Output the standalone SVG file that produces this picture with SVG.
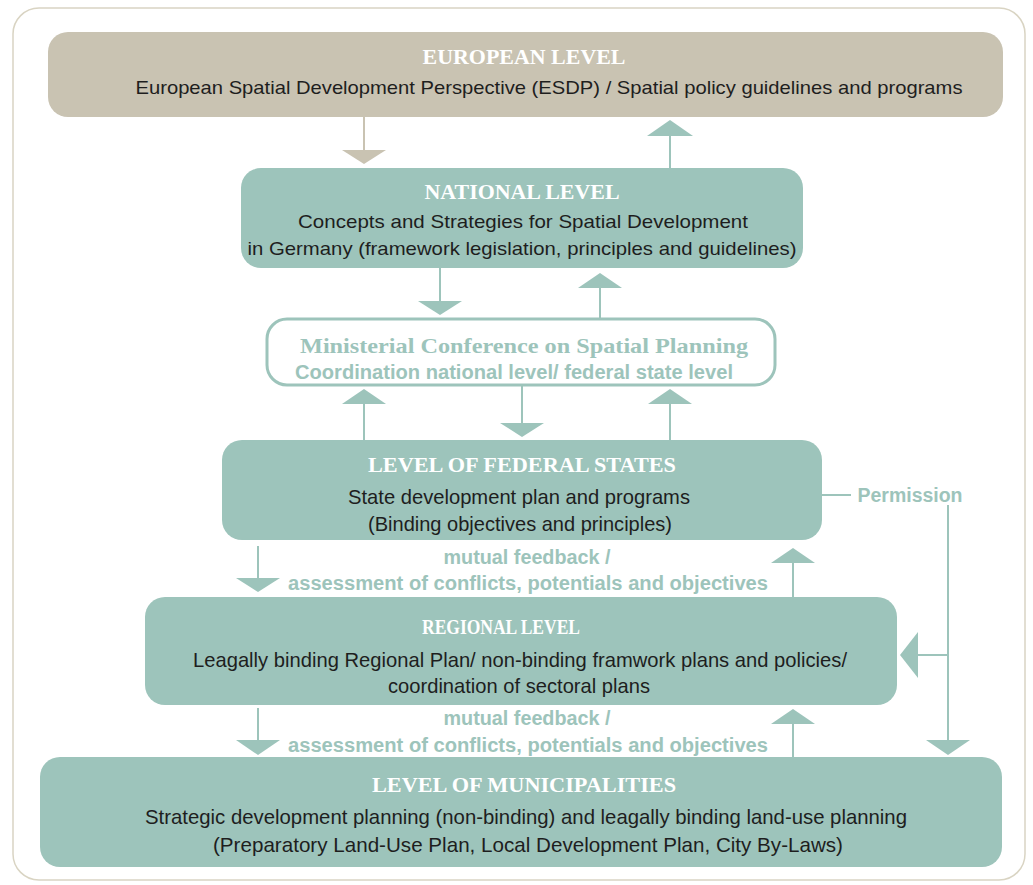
<svg xmlns="http://www.w3.org/2000/svg" width="1033" height="885" viewBox="0 0 1033 885">
<style>
.box{fill:#9dc4bb}
.title{font-family:"Liberation Serif",serif;font-weight:bold;font-size:20px;fill:#ffffff;text-anchor:middle}
.body{font-family:"Liberation Sans",sans-serif;font-size:19px;fill:#1e1e1e;text-anchor:middle}
.cb{font-family:"Liberation Sans",sans-serif;font-size:21px;fill:#1e1e1e;text-anchor:middle}
.tl{font-family:"Liberation Sans",sans-serif;font-weight:bold;font-size:20px;fill:#9dc4bb;text-anchor:middle}
.ln{stroke:#9dc4bb;stroke-width:2;fill:none}
.hd{fill:#9dc4bb}
</style>
<rect x="13" y="8" width="1012" height="872" rx="26" fill="#ffffff" stroke="#d9d4c3" stroke-width="1.5"/>

<g id="connectors">
  <line x1="364" y1="117" x2="364" y2="151" stroke="#c9c3b2" stroke-width="2"/>
  <polygon points="342,150 386,150 364,164" fill="#c9c3b2"/>
  <line class="ln" x1="670" y1="134" x2="670" y2="168"/>
  <polygon class="hd" points="647,136 693,136 670,120"/>
  <line class="ln" x1="440" y1="268" x2="440" y2="302"/>
  <polygon class="hd" points="418,301 462,301 440,315"/>
  <line class="ln" x1="600" y1="286" x2="600" y2="318"/>
  <polygon class="hd" points="578,288 622,288 600,273"/>
  <line class="ln" x1="364" y1="402" x2="364" y2="440"/>
  <polygon class="hd" points="342,404 386,404 364,389"/>
  <line class="ln" x1="522" y1="386" x2="522" y2="424"/>
  <polygon class="hd" points="500,423 544,423 522,437"/>
  <line class="ln" x1="670" y1="402" x2="670" y2="440"/>
  <polygon class="hd" points="648,404 692,404 670,389"/>
  <line class="ln" x1="258" y1="546" x2="258" y2="579"/>
  <polygon class="hd" points="236,578 280,578 258,592"/>
  <line class="ln" x1="793" y1="561" x2="793" y2="597"/>
  <polygon class="hd" points="771,563 815,563 793,548"/>
  <line class="ln" x1="258" y1="708" x2="258" y2="741"/>
  <polygon class="hd" points="236,740 280,740 258,755"/>
  <line class="ln" x1="793" y1="722" x2="793" y2="757"/>
  <polygon class="hd" points="771,724 815,724 793,709"/>
  <line class="ln" x1="822" y1="495" x2="851" y2="495"/>
  <line class="ln" x1="948" y1="505" x2="948" y2="741"/>
  <polygon class="hd" points="926,740 970,740 948,755"/>
  <line class="ln" x1="948" y1="655" x2="916" y2="655"/>
  <polygon class="hd" points="918,632 918,678 900,655"/>
</g>

<g id="european">
  <rect x="48" y="32" width="955" height="85" rx="20" fill="#c9c3b2"/>
  <text class="title" x="524" y="64" textLength="203" lengthAdjust="spacingAndGlyphs">EUROPEAN LEVEL</text>
  <text class="body" x="549" y="94" textLength="827" lengthAdjust="spacingAndGlyphs">European Spatial Development Perspective (ESDP) / Spatial policy guidelines and programs</text>
</g>

<g id="national">
  <rect class="box" x="241" y="168" width="562" height="100" rx="20"/>
  <text class="title" x="522" y="199" textLength="195" lengthAdjust="spacingAndGlyphs">NATIONAL LEVEL</text>
  <text class="body" x="523" y="228" textLength="450" lengthAdjust="spacingAndGlyphs">Concepts and Strategies for Spatial Development</text>
  <text class="body" x="522" y="255" textLength="549" lengthAdjust="spacingAndGlyphs">in Germany (framework legislation, principles and guidelines)</text>
</g>

<g id="ministerial">
  <rect x="267" y="319" width="508" height="66" rx="20" fill="#ffffff" stroke="#9dc4bb" stroke-width="3"/>
  <text x="524" y="353" font-family="Liberation Serif, serif" font-weight="bold" font-size="21" fill="#9dc4bb" text-anchor="middle" textLength="448" lengthAdjust="spacingAndGlyphs">Ministerial Conference on Spatial Planning</text>
  <text class="tl" x="514" y="379" textLength="438" lengthAdjust="spacingAndGlyphs">Coordination national level/ federal state level</text>
</g>

<g id="federal">
  <rect class="box" x="222" y="440" width="600" height="100" rx="20"/>
  <text class="title" x="522" y="472" textLength="308" lengthAdjust="spacingAndGlyphs">LEVEL OF FEDERAL STATES</text>
  <text class="cb" x="519" y="504" textLength="342" lengthAdjust="spacingAndGlyphs">State development plan and programs</text>
  <text class="cb" x="520" y="531" textLength="304" lengthAdjust="spacingAndGlyphs">(Binding objectives and principles)</text>
</g>

<g id="permission">
  <text class="tl" x="910" y="502" textLength="105" lengthAdjust="spacingAndGlyphs">Permission</text>
</g>

<g id="feedback1">
  <text class="tl" x="527" y="564" textLength="167" lengthAdjust="spacingAndGlyphs">mutual feedback /</text>
  <text class="tl" x="528" y="590" textLength="480" lengthAdjust="spacingAndGlyphs">assessment of conflicts, potentials and objectives</text>
</g>

<g id="regional">
  <rect class="box" x="145" y="597" width="752" height="108" rx="20"/>
  <text class="title" x="501" y="634" textLength="158" lengthAdjust="spacingAndGlyphs">REGIONAL LEVEL</text>
  <text class="cb" x="520" y="667" textLength="654" lengthAdjust="spacingAndGlyphs">Leagally binding Regional Plan/ non-binding framwork plans and policies/</text>
  <text class="cb" x="519" y="693" textLength="262" lengthAdjust="spacingAndGlyphs">coordination of sectoral plans</text>
</g>

<g id="feedback2">
  <text class="tl" x="527" y="725" textLength="167" lengthAdjust="spacingAndGlyphs">mutual feedback /</text>
  <text class="tl" x="528" y="752" textLength="480" lengthAdjust="spacingAndGlyphs">assessment of conflicts, potentials and objectives</text>
</g>

<g id="municipalities">
  <rect class="box" x="40" y="757" width="962" height="110" rx="20"/>
  <text class="title" x="524" y="792" textLength="304" lengthAdjust="spacingAndGlyphs">LEVEL OF MUNICIPALITIES</text>
  <text class="cb" x="526" y="824" textLength="762" lengthAdjust="spacingAndGlyphs">Strategic development planning (non-binding) and leagally binding land-use planning</text>
  <text class="cb" x="528" y="852" textLength="630" lengthAdjust="spacingAndGlyphs">(Preparatory Land-Use Plan, Local Development Plan, City By-Laws)</text>
</g>
</svg>
